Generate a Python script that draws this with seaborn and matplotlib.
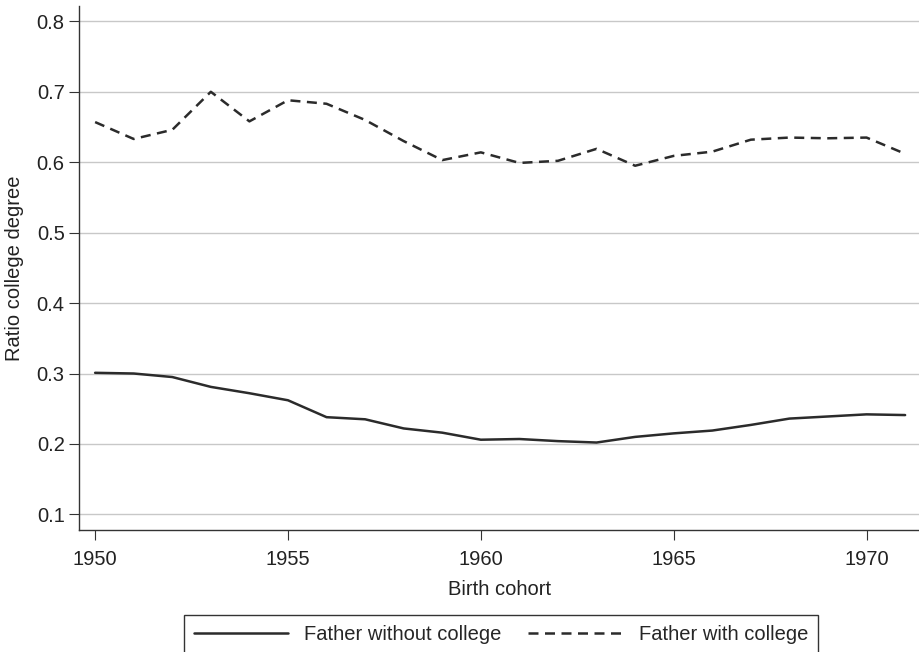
import pandas as pd
import matplotlib.pyplot as plt
import seaborn as sns

sns.set_theme(style="white")
plt.rcParams["font.family"] = ["Liberation Sans", "DejaVu Sans"]

# data
years = list(range(1950, 1972))
without_college = [0.301, 0.300, 0.295, 0.281, 0.272, 0.262, 0.238, 0.235, 0.222, 0.216, 0.206,
                   0.207, 0.204, 0.202, 0.210, 0.215, 0.219, 0.227, 0.236, 0.239, 0.242, 0.241]
with_college = [0.657, 0.633, 0.646, 0.700, 0.658, 0.688, 0.683, 0.660, 0.630, 0.603, 0.614,
                0.599, 0.602, 0.619, 0.595, 0.609, 0.615, 0.632, 0.635, 0.634, 0.635, 0.612]
series_names = ["Father without college", "Father with college"]
x_ticks = [1950, 1955, 1960, 1965, 1970]
y_ticks = [0.1, 0.2, 0.3, 0.4, 0.5, 0.6, 0.7, 0.8]

df = pd.DataFrame({
    "Birth cohort": years * 2,
    "Ratio": without_college + with_college,
    "Group": [series_names[0]] * len(years) + [series_names[1]] * len(years),
})

FS = 14.5

fig = plt.figure(figsize=(9.19, 6.52), dpi=100)
ax = fig.add_axes([0.0863, 0.187, 0.9137, 0.804])

sns.lineplot(data=df, x="Birth cohort", y="Ratio", style="Group",
             dashes={series_names[0]: "", series_names[1]: (4, 2.6)},
             color="#2b2b2b", linewidth=1.8, ax=ax)

ax.set_xlim(1949.59, 1971.36)
ax.set_ylim(0.0777, 0.822)
ax.set_xticks(x_ticks)
ax.set_yticks(y_ticks)
ax.set_yticklabels([f"{v:.1f}" for v in y_ticks])
ax.tick_params(axis="both", direction="out", length=7, width=0.8, color="#333333",
               labelsize=FS, labelcolor="#222222", left=True, bottom=True)
ax.tick_params(axis="x", pad=7)
ax.yaxis.grid(True, color="#c8c8c8", linewidth=1)
ax.xaxis.grid(False)
for side in ["top", "right"]:
    ax.spines[side].set_visible(False)
for side in ["left", "bottom"]:
    ax.spines[side].set_color("#333333")
    ax.spines[side].set_linewidth(1.0)

ax.set_xlabel("Birth cohort", fontsize=FS, color="#222222", labelpad=8)
ax.set_ylabel("Ratio college degree", fontsize=FS, color="#222222", labelpad=9)

handles, labels = ax.get_legend_handles_labels()
ax.legend(handles, labels, loc="upper center", bbox_to_anchor=(0.502, -0.143), ncol=2,
          frameon=True, fancybox=False, edgecolor="black", fontsize=FS,
          handlelength=4.7, columnspacing=1.3, borderpad=0.5)
ax.get_legend().get_frame().set_linewidth(1.0)

fig.savefig("out.png", dpi=100)
